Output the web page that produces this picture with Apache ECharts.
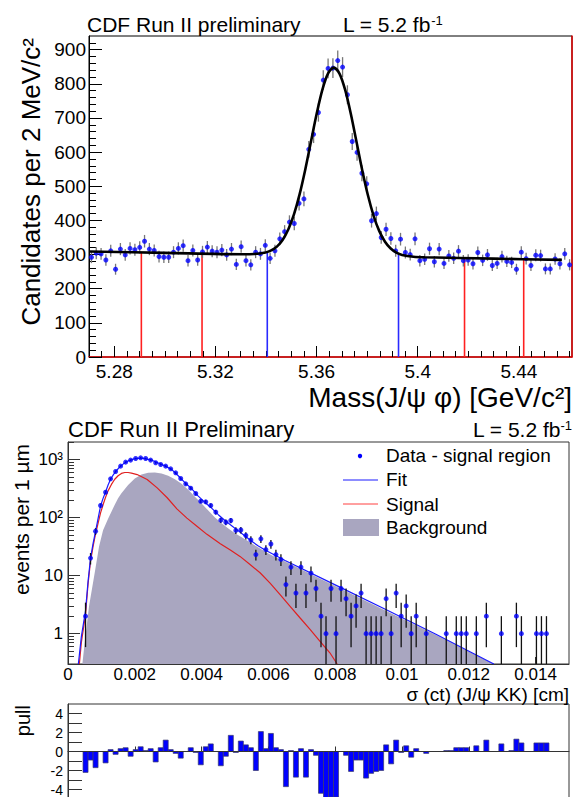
<!DOCTYPE html>
<html><head><meta charset="utf-8">
<script src="https://cdn.jsdelivr.net/npm/echarts@6/dist/echarts.min.js"></script>
<style>html,body{margin:0;padding:0;background:#fff}#c{width:575px;height:797px}</style>
</head><body><div id="c"></div>
<script>
// ---------- Top panel: mass spectrum ----------
const massMin = 5.27, massMax = 5.461, massBinWidth = 0.00191;
const massCounts = [
 292,304,302,284,311,257,316,299,318,314,
 321,339,316,312,294,292,292,307,318,326,
 282,312,284,308,322,310,307,313,299,316,
 271,323,282,270,307,302,327,289,311,346,
 367,395,391,450,463,608,652,716,811,845,
 846,868,849,768,631,599,538,507,399,420,
 350,374,347,311,345,306,300,346,282,286,
 317,279,316,274,296,289,310,282,284,273,
 306,283,299,268,274,294,280,277,257,307,
 288,268,298,297,258,258,287,273,302,270];
const massFitX = [5.27,5.30,5.3308,5.3353,5.3398,5.34205,5.3443,5.34655,5.3488,5.35105,5.3533,5.35555,5.3578,5.36005,5.3623,5.36455,5.3668,5.36905,5.3713,5.37355,5.3758,5.37805,5.3803,5.38255,5.3848,5.38705,5.3893,5.39155,5.3938,5.3983,5.4028,5.43,5.457];
const massFitY = [309,305,301,301.5,305.8,312,323.3,342.7,373.2,417.5,476.9,549.9,631.6,713.1,783.2,830.6,847.3,830,782,711.4,629.4,547.1,473.5,413.5,368.6,337.6,317.7,305.8,299,293.6,292,288,284.5];
const regionEdges = [5.2907,5.3147,5.3405,5.3924,5.4185,5.4419];
const regionEdgeTops = [305,303,306,301,289,286];
const regionKinds = ['side','side','signal','signal','side','side'];
const massTickLabels = [5.28,5.32,5.36,5.40,5.44];
const massYTickLabels = [0,100,200,300,400,500,600,700,800,900];

// ---------- Middle panel: sigma(ct) ----------
const ctMin = 0, ctMax = 0.015, ctBinWidth = 0.00015;
const ctCounts = [
 0,0,0,2,20,58,161,273,464,621,
 768,900,975,1040,1069,1040,975,877,820,768,
 690,589,470,380,320,259,191,186,161,124,
 90,83,89,60,61,49,41,23,43,28,
 35,23,19,7,14,5,14,5,11,6,
 2,1,6,1,6,4,2,3,5,1,
 1,1,1,4,1,5,2,3,1,2,
 0,1,0,0,0,1,0,1,1,1,
 0,1,0,2,0,0,1,0,0,2,
 1,0,0,1,1,1,0,0,0,0];
const ctFitX = [0.00031,0.0004,0.000525,0.0006,0.000675,0.00075,0.000825,0.0009,0.000975,0.00105,0.001125,0.0012,0.001275,0.00135,0.001425,0.0015,0.001575,0.00165,0.001725,0.0018,0.001875,0.00195,0.002025,0.0021,0.002175,0.00225,0.0023,0.0025,0.0027,0.0029,0.0031,0.0033,0.0035,0.0037,0.0039,0.0041,0.0043,0.0045,0.0047,0.0049,0.0051,0.0053,0.0055,0.0057,0.0059,0.0061,0.0063,0.0065,0.008,0.0095,0.011,0.01275];
const ctFitY = [0.30,0.89,2.5,7.9,20,35.5,57.5,95.5,158,214,275,363,457,537,617,692,767,832,891,944,977,1012,1035,1047,1052,1047,1035,977,871,776,676,525,398,316,234,182,145,112,89.1,72.4,58.9,47.9,38.9,32.4,27.5,24.0,20.9,18.2,6.92,2.63,0.989,0.30];
const ctSigX = [0.00034,0.0004,0.000525,0.0006,0.000675,0.00075,0.000825,0.0009,0.000975,0.00105,0.001125,0.0012,0.0013,0.0014,0.0015,0.0016,0.0017,0.0018,0.0019,0.00207,0.00237,0.00267,0.00297,0.00326,0.00356,0.00386,0.00416,0.00456,0.00486,0.00515,0.00545,0.00575,0.00605,0.00635,0.00665,0.00695,0.00724,0.00754,0.00784,0.00806];
const ctSigY = [0.30,0.708,2.14,7.08,17.8,31.6,52.5,79.4,120,166,224,288,372,457,525,575,596,596,582,550,452,324,219,141,97.7,70.8,51.3,35.5,27.5,21.4,15.5,11.2,7.41,4.68,2.95,1.86,1.20,0.741,0.468,0.30];
const ctBkgX = [0.00043,0.00051,0.00063,0.0008,0.00093,0.00105,0.0012,0.0013,0.0014,0.0015,0.0016,0.0018,0.002,0.0022,0.0024,0.0026,0.0028,0.003,0.0032,0.0034,0.0036,0.0038,0.004,0.0042,0.0044,0.0046,0.0048,0.005,0.0052,0.0054,0.0056,0.0058,0.006,0.0062,0.0065,0.008,0.0095,0.011,0.01275];
const ctBkgY = [0.30,0.794,2.95,11.2,31.6,60.3,95.5,126,166,214,263,363,468,550,589,596,575,525,457,380,302,229,174,132,100,79.4,64.6,53.7,45.7,38.9,33.1,28.2,24.0,20.9,17.4,6.61,2.51,0.955,0.30];
const ctTickLabels = [0,0.002,0.004,0.006,0.008,0.010,0.012,0.014];
const ctYTickLabels = [1,10,100,1000];

// ---------- Bottom panel: pull ----------
const pullValues = [
 0,0,0,-2.2,-0.9,-1.7,0,-1.2,0.2,-0.3,
 0.3,0.4,-0.5,0.2,0.5,0.1,0.3,-1.1,0.4,1.2,
 0.2,-0.2,-0.7,0,0.4,-0.1,-1.4,0.5,0.8,0,
 -1.5,-0.5,1.7,-0.1,1.1,0.7,0.4,-2.0,2.1,0.3,
 1.9,0.4,0.2,-3.7,0.1,-2.7,0.3,-2.7,0.2,-0.4,
 -4.4,-5.5,-4.8,-4.8,0,-0.4,-2.1,-0.9,-0.9,-2.8,
 -2.3,-2.1,-2.0,0.7,-1.3,1.2,-0.1,0.6,-0.6,0.3,
 0,-0.2,0,0,0,0.1,0.1,0.4,0.4,0.4,
 0,0.6,0,1.2,0,0,0.8,0,0.1,1.3,
 0.9,0,0,0.9,0.9,0.9,0,0,0,0];
const pullTickLabels = [-4,-2,0,2,4];

// ================= build =================
const FONT = '"Liberation Sans", Arial, Helvetica, sans-serif';
const chart = echarts.init(document.getElementById('c'), null, {renderer: 'svg', width: 575, height: 797});

const massPoints = massCounts.map((c, i) => [massMin + (i + 0.5) * massBinWidth, c, Math.sqrt(c)]);
const massFit = massFitX.map((x, i) => [x, massFitY[i]]);
const regionData = regionEdges.map((x, i) => [x, regionEdgeTops[i], regionKinds[i] === 'signal' ? 1 : 0]);
const massMinor = [];
for (let k = 0; k * 0.005 + 5.265 < massMax; k++) {
  const v = +(5.265 + k * 0.005).toFixed(3);
  if (v > massMin && !massTickLabels.some(t => Math.abs(t - v) < 1e-6)) massMinor.push(v);
}
const massYMinor = [];
for (let v = 20; v < 940; v += 20) if (v % 100) massYMinor.push(v);

const ctPoints = [];
ctCounts.forEach((c, i) => { if (c > 0) ctPoints.push([(i + 0.5) * ctBinWidth, c, Math.sqrt(c)]); });
const ctFit = ctFitX.map((x, i) => [x, ctFitY[i]]);
const ctSig = ctSigX.map((x, i) => [x, ctSigY[i]]);
const ctBkg = ctBkgX.map((x, i) => [x, ctBkgY[i]]);
const logMinor = [];
[0.1, 1, 10, 100, 1000].forEach(d => { for (let m = 2; m <= 9; m++) { const v = +(m * d).toPrecision(3); if (v >= 0.3 && v <= 2000) logMinor.push(v); } });

const pullBars = [];
pullValues.forEach((v, i) => { if (v !== 0) pullBars.push([i * ctBinWidth, (i + 1) * ctBinWidth, v]); });

const lbl = (extra) => Object.assign({color: '#000', fontFamily: FONT}, extra);
const noSplit = {show: false};

function errBar(color, lw, floor) {
  return function (params, api) {
    const x = api.value(0), y = api.value(1), e = api.value(2);
    let lo = y - e; if (floor && lo < floor) lo = floor;
    const p1 = api.coord([x, lo]), p2 = api.coord([x, y + e]);
    return {type: 'line', shape: {x1: p1[0], y1: p1[1], x2: p2[0], y2: p2[1]}, style: {stroke: color, lineWidth: lw}};
  };
}

const option = {
  animation: false,
  backgroundColor: '#fff',
  grid: [
    {left: 89, top: 36, width: 483, height: 321, show: true, borderColor: '#000', borderWidth: 1, containLabel: false, outerBoundsMode: 'none'},
    {left: 68, top: 442, width: 501, height: 222, show: true, borderColor: '#333', borderWidth: 1, containLabel: false, outerBoundsMode: 'none'},
    {left: 68, top: 704, width: 501, height: 95, show: true, borderColor: '#333', borderWidth: 1, containLabel: false, outerBoundsMode: 'none'}
  ],
  xAxis: [
    {gridIndex: 0, type: 'value', position: 'bottom', min: massMin, max: massMax, splitLine: noSplit,
     axisLine: {show: true, lineStyle: {color: '#e00000', width: 1.5}},
     axisTick: {show: true, inside: true, length: 11, customValues: massTickLabels, lineStyle: {color: '#000'}},
     axisLabel: lbl({customValues: massTickLabels, fontSize: 19, margin: 5, formatter: v => String(+(+v).toFixed(2))})},
    {gridIndex: 0, type: 'value', position: 'bottom', min: massMin, max: massMax, splitLine: noSplit,
     axisLine: {show: false}, axisLabel: {show: false},
     axisTick: {show: true, inside: true, length: 6, customValues: massMinor, lineStyle: {color: '#000'}}},
    {gridIndex: 1, type: 'value', position: 'bottom', min: ctMin, max: ctMax, splitLine: noSplit,
     axisLine: {show: true, lineStyle: {color: '#333'}},
     axisTick: {show: true, inside: true, length: 7, customValues: ctTickLabels, lineStyle: {color: '#333'}},
     axisLabel: lbl({customValues: ctTickLabels, fontSize: 17, lineHeight: 16, margin: 2, formatter: v => (+v === 0 ? '0' : String(+(+v).toFixed(3)))})},
    {gridIndex: 2, type: 'value', position: 'bottom', min: ctMin, max: ctMax, splitLine: noSplit,
     axisLine: {show: true, lineStyle: {color: '#333'}}, axisLabel: {show: false},
     axisTick: {show: true, inside: true, length: 5, customValues: ctTickLabels, lineStyle: {color: '#333'}}}
  ],
  yAxis: [
    {gridIndex: 0, type: 'value', position: 'left', min: 0, max: 940, splitLine: noSplit,
     axisLine: {show: true, lineStyle: {color: '#000'}},
     axisTick: {show: true, inside: true, length: 13, customValues: massYTickLabels, lineStyle: {color: '#000'}},
     axisLabel: lbl({customValues: massYTickLabels, fontSize: 19, margin: 3})},
    {gridIndex: 0, type: 'value', position: 'left', min: 0, max: 940, splitLine: noSplit,
     axisLine: {show: false}, axisLabel: {show: false},
     axisTick: {show: true, inside: true, length: 7, customValues: massYMinor, lineStyle: {color: '#000'}}},
    {gridIndex: 0, type: 'value', position: 'right', min: 0, max: 940, splitLine: noSplit,
     axisLine: {show: true, lineStyle: {color: '#e00000', width: 1.5}}, axisLabel: {show: false}, axisTick: {show: false}},
    {gridIndex: 1, type: 'log', logBase: 10, position: 'left', min: 0.3, max: 2000, splitLine: noSplit,
     axisLine: {show: true, lineStyle: {color: '#333'}},
     axisTick: {show: true, inside: true, length: 12, customValues: ctYTickLabels, lineStyle: {color: '#333'}},
     axisLabel: lbl({customValues: ctYTickLabels, fontSize: 17, margin: 5,
       formatter: v => ({1: '1', 10: '10', 100: '10²', 1000: '10³'})[Math.round(+v)] || ''})},
    {gridIndex: 1, type: 'log', logBase: 10, position: 'left', min: 0.3, max: 2000, splitLine: noSplit,
     axisLine: {show: false}, axisLabel: {show: false},
     axisTick: {show: true, inside: true, length: 6, customValues: logMinor, lineStyle: {color: '#333'}}},
    {gridIndex: 2, type: 'value', position: 'left', min: -5, max: 5, splitLine: noSplit,
     axisLine: {show: true, lineStyle: {color: '#333'}},
     axisTick: {show: true, inside: true, length: 14, customValues: [-4,-3,-2,-1,0,1,2,3,4], lineStyle: {color: '#333'}},
     axisLabel: lbl({customValues: pullTickLabels, fontSize: 14, margin: 5})}
  ],
  series: [
    // top panel
    {type: 'custom', xAxisIndex: 0, yAxisIndex: 0, data: regionData, z: 2,
     renderItem: (params, api) => {
       const x = api.value(0), top = api.value(1), kind = api.value(2);
       const p1 = api.coord([x, 0]), p2 = api.coord([x, top]);
       return {type: 'line', shape: {x1: p1[0], y1: p1[1], x2: p2[0], y2: p2[1]},
               style: {stroke: kind ? '#2a2aff' : '#ff2020', lineWidth: 1.6}};
     }},
    {type: 'custom', xAxisIndex: 0, yAxisIndex: 0, data: massPoints, z: 3, renderItem: errBar('#777', 1.3)},
    {type: 'scatter', xAxisIndex: 0, yAxisIndex: 0, data: massPoints.map(p => [p[0], p[1]]), symbol: 'circle', symbolSize: 5,
     itemStyle: {color: '#0000ff'}, z: 4},
    {type: 'line', xAxisIndex: 0, yAxisIndex: 0, data: massFit, smooth: 0.3, symbol: 'none',
     lineStyle: {color: '#000', width: 2.6}, z: 5},
    // middle panel
    {type: 'line', xAxisIndex: 2, yAxisIndex: 3, data: ctBkg, smooth: false, symbol: 'none',
     lineStyle: {width: 0}, areaStyle: {color: '#a9a6c0', opacity: 1, origin: 'start'}, z: 2},
    {type: 'line', xAxisIndex: 2, yAxisIndex: 3, data: ctSig, smooth: false, symbol: 'none',
     lineStyle: {color: '#e02020', width: 1.2}, z: 3},
    {type: 'line', xAxisIndex: 2, yAxisIndex: 3, data: ctFit, smooth: false, symbol: 'none',
     lineStyle: {color: '#1a1aff', width: 1.2}, z: 3},
    {type: 'custom', xAxisIndex: 2, yAxisIndex: 3, data: ctPoints, z: 4, clip: true, renderItem: errBar('#111', 1.3, 0.3)},
    {type: 'scatter', xAxisIndex: 2, yAxisIndex: 3, data: ctPoints.map(p => [p[0], p[1]]), symbol: 'circle', symbolSize: 5,
     itemStyle: {color: '#0000ff'}, z: 5},
    // pull panel
    {type: 'custom', xAxisIndex: 3, yAxisIndex: 5, data: pullBars, clip: true, z: 3,
     renderItem: (params, api) => {
       const p0 = api.coord([api.value(0), 0]), p1 = api.coord([api.value(1), api.value(2)]);
       return {type: 'rect', shape: {x: p0[0], y: Math.min(p0[1], p1[1]), width: p1[0] - p0[0], height: Math.abs(p1[1] - p0[1])},
               style: {fill: '#0000ff', stroke: '#3a3a6a', lineWidth: 0.7}};
     },
     markLine: {silent: true, symbol: 'none', label: {show: false}, data: [{yAxis: 0}], lineStyle: {color: '#333', width: 1, type: 'solid'}}}
  ],
  graphic: [
    {type: 'text', x: 87, y: 24, style: {text: 'CDF Run II preliminary', fontSize: 21, fontFamily: FONT, fill: '#000', align: 'left', verticalAlign: 'middle'}},
    {type: 'text', x: 343, y: 24, style: {text: '{a|L = 5.2 fb}{b|-1}', fill: '#000', align: 'left', verticalAlign: 'middle',
      rich: {a: {fontSize: 21, fontFamily: FONT, fill: '#000'}, b: {fontSize: 13, fontFamily: FONT, fill: '#000', verticalAlign: 'top'}}}},
    {type: 'text', x: 31, y: 38, rotation: Math.PI / 2, style: {text: 'Candidates per 2 MeV/c²', fontSize: 26, fontFamily: FONT, fill: '#000', align: 'right', verticalAlign: 'middle'}},
    {type: 'text', x: 572, y: 397, style: {text: 'Mass(J/ψ φ) [GeV/c²]', fontSize: 28, fontFamily: FONT, fill: '#000', align: 'right', verticalAlign: 'middle'}},
    {type: 'text', x: 68, y: 429, style: {text: 'CDF Run II Preliminary', fontSize: 22, fontFamily: FONT, fill: '#000', align: 'left', verticalAlign: 'middle'}},
    {type: 'text', x: 572, y: 429, style: {text: '{a|L = 5.2 fb}{b|-1}', fill: '#000', align: 'right', verticalAlign: 'middle',
      rich: {a: {fontSize: 21, fontFamily: FONT, fill: '#000'}, b: {fontSize: 13, fontFamily: FONT, fill: '#000', verticalAlign: 'top'}}}},
    {type: 'text', x: 21, y: 444, rotation: Math.PI / 2, style: {text: 'events per 1 µm', fontSize: 21, fontFamily: FONT, fill: '#000', align: 'right', verticalAlign: 'middle'}},
    {type: 'text', x: 569, y: 694, style: {text: 'σ (ct) (J/ψ KK) [cm]', fontSize: 19, lineHeight: 18, fontFamily: FONT, fill: '#000', align: 'right', verticalAlign: 'middle'}},
    {type: 'text', x: 23, y: 705, rotation: Math.PI / 2, style: {text: 'pull', fontSize: 20, fontFamily: FONT, fill: '#000', align: 'right', verticalAlign: 'middle'}},
    // legend
    {type: 'circle', shape: {cx: 360, cy: 456, r: 2.2}, style: {fill: '#0000ff'}},
    {type: 'text', x: 386, y: 455, style: {text: 'Data - signal region', fontSize: 19, fontFamily: FONT, fill: '#000', align: 'left', verticalAlign: 'middle'}},
    {type: 'line', shape: {x1: 343, y1: 480, x2: 378, y2: 480}, style: {stroke: '#1a1aff', lineWidth: 1}},
    {type: 'text', x: 386, y: 479, style: {text: 'Fit', fontSize: 19, fontFamily: FONT, fill: '#000', align: 'left', verticalAlign: 'middle'}},
    {type: 'line', shape: {x1: 343, y1: 504, x2: 378, y2: 504}, style: {stroke: '#ff4040', lineWidth: 1}},
    {type: 'text', x: 386, y: 504, style: {text: 'Signal', fontSize: 19, fontFamily: FONT, fill: '#000', align: 'left', verticalAlign: 'middle'}},
    {type: 'rect', shape: {x: 343, y: 519, width: 36, height: 17}, style: {fill: '#a9a6c0'}},
    {type: 'text', x: 386, y: 527, style: {text: 'Background', fontSize: 19, fontFamily: FONT, fill: '#000', align: 'left', verticalAlign: 'middle'}}
  ]
};
chart.setOption(option);
</script>
</body></html>
